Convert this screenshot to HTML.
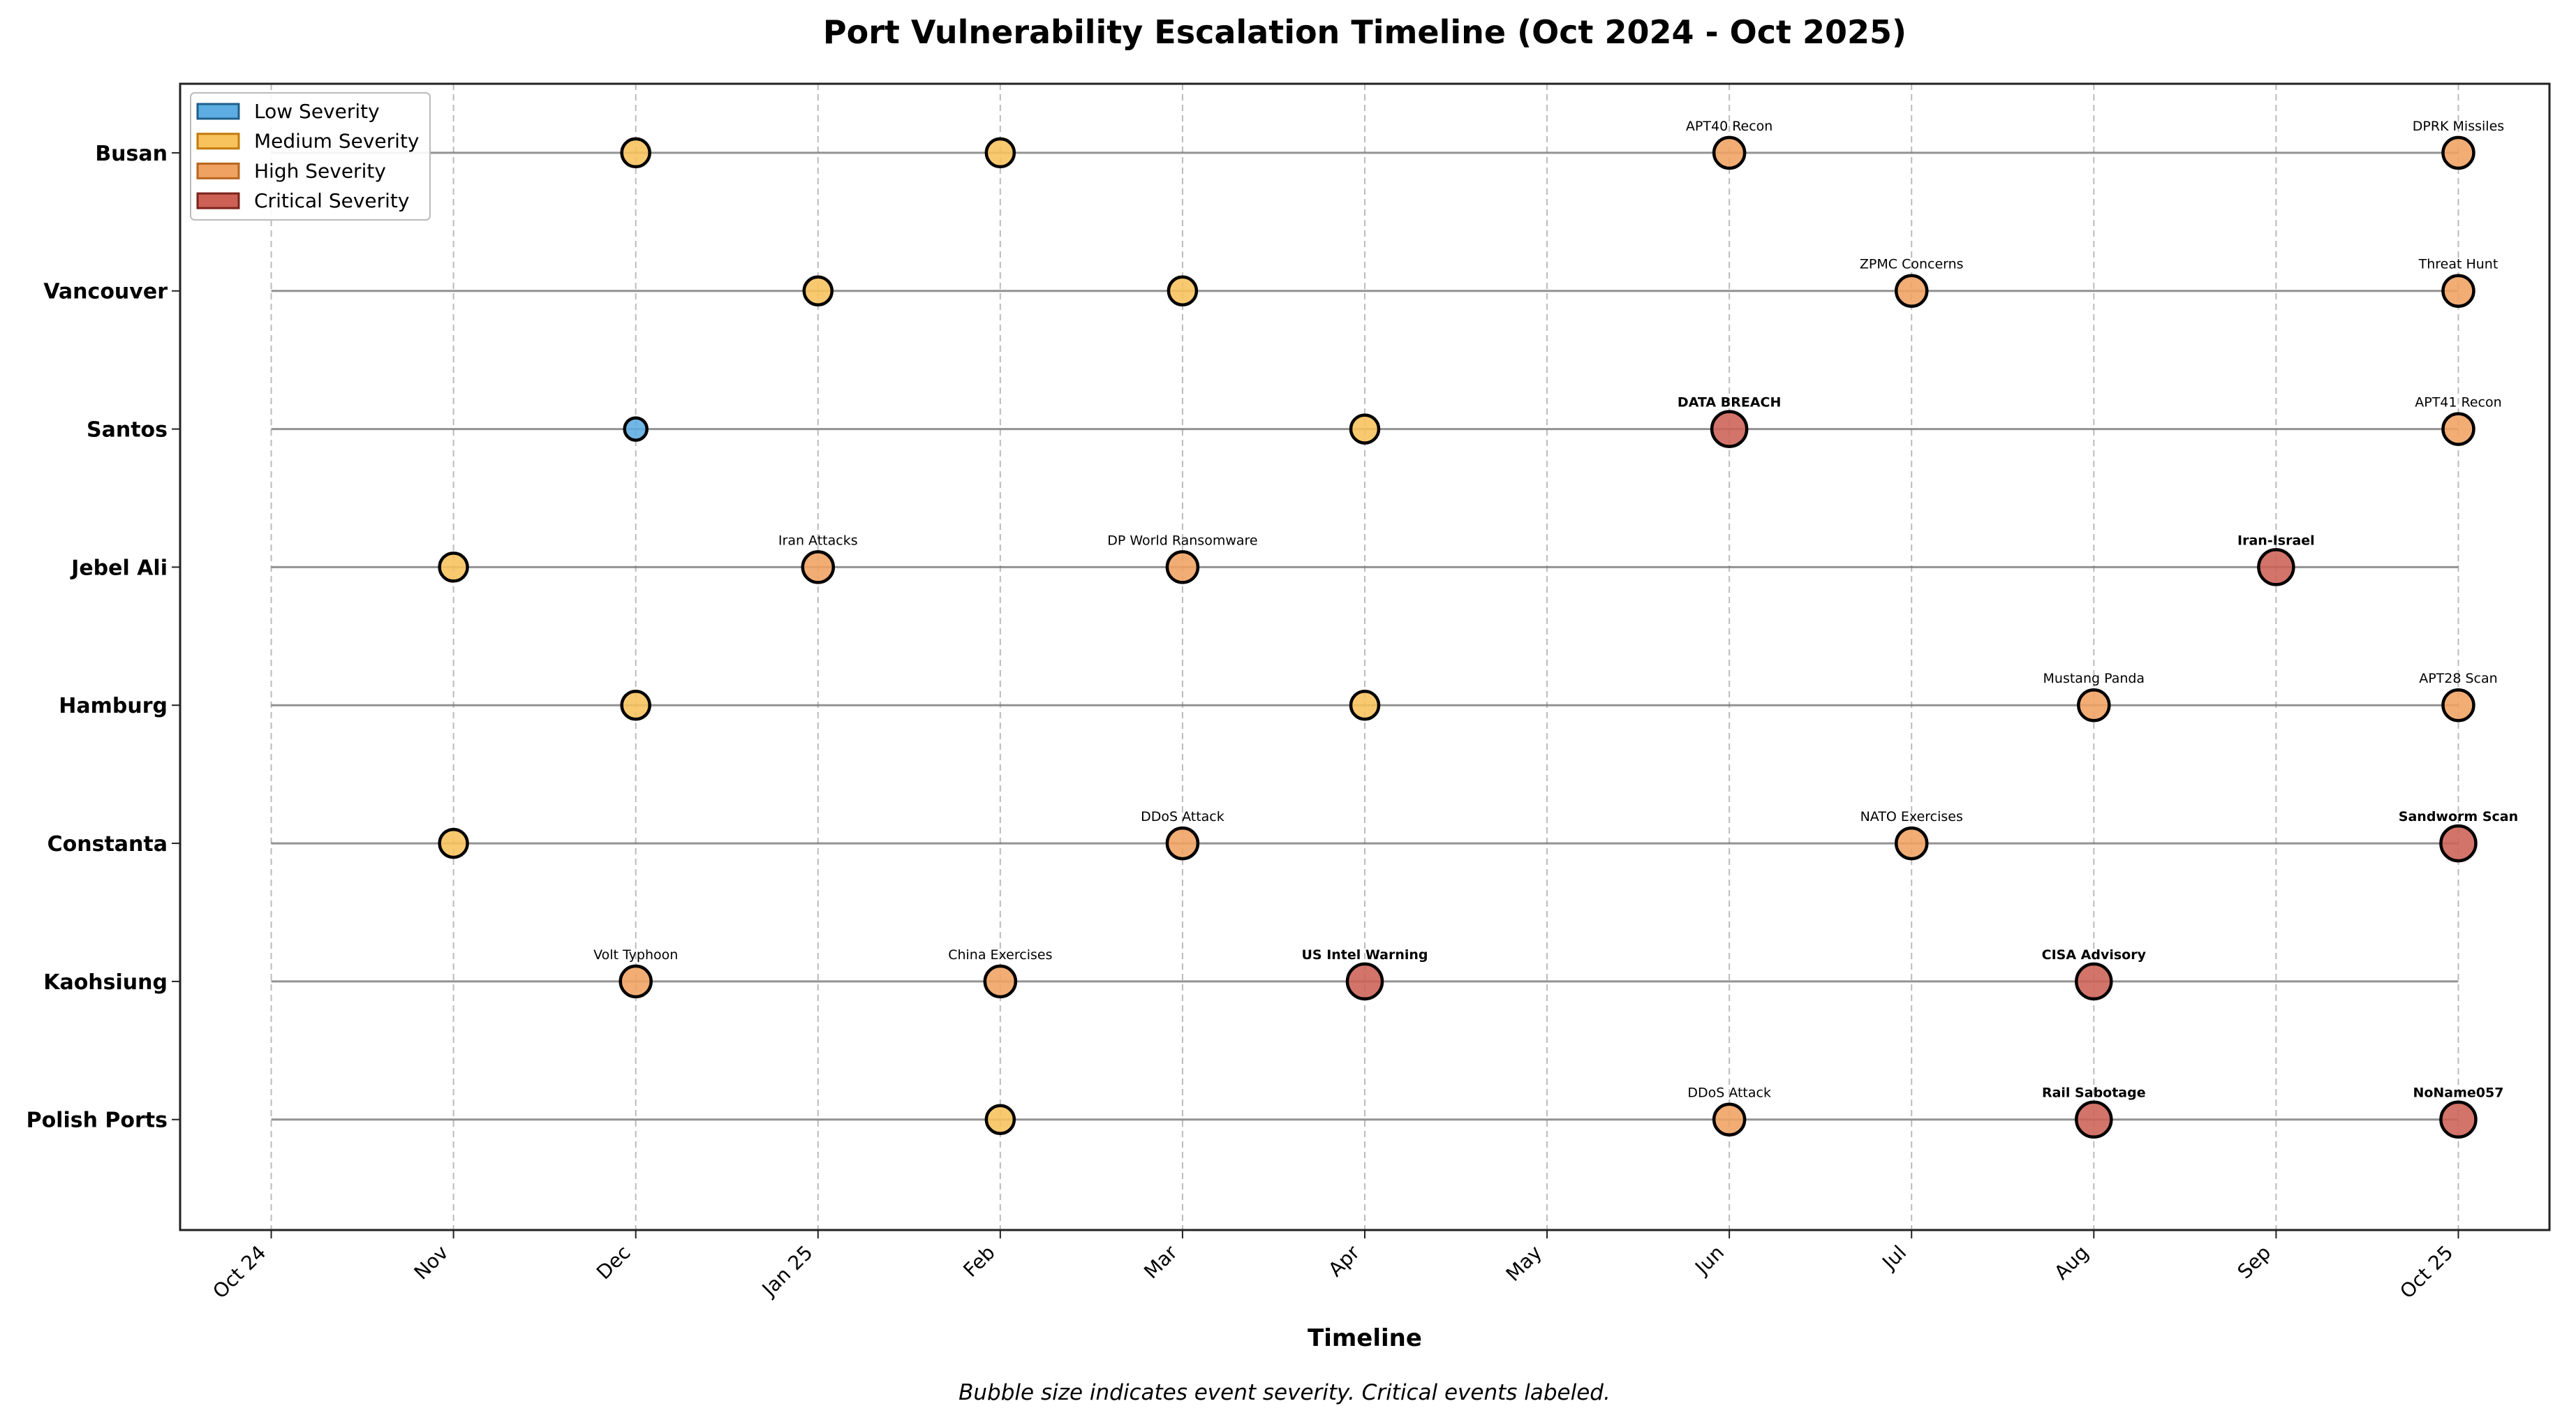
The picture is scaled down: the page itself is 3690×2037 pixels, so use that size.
<!DOCTYPE html>
<html><head><meta charset="utf-8"><style>
html,body{margin:0;padding:0;background:#fff;}
svg{display:block;font-family:"DejaVu Sans","Liberation Sans",sans-serif;}
</style></head><body>
<svg id="chart" width="3690" height="2037" viewBox="0 0 3690 2037" xmlns="http://www.w3.org/2000/svg">
<rect width="3690" height="2037" fill="#fff"/>
<text x="1955" y="62" text-anchor="middle" font-size="46" font-weight="bold">Port Vulnerability Escalation Timeline (Oct 2024 - Oct 2025)</text>
<g id="grid"></g>
<g id="rows"></g>
<g id="bubbles"></g>
<rect x="258" y="120" width="3394" height="1642" fill="none" stroke="#222" stroke-width="3"/>
<g id="xaxis"></g>
<g id="yaxis"></g>
<text x="1955" y="1928" text-anchor="middle" font-size="34" font-weight="bold">Timeline</text>
<text x="1840" y="2005" text-anchor="middle" font-size="31" font-style="italic">Bubble size indicates event severity. Critical events labeled.</text>
<g id="legend">
<rect x="273" y="133" width="343" height="182" rx="6" fill="#fff" fill-opacity="0.9" stroke="#bbb" stroke-width="2"/>
</g>
</svg>
<script>
const ports = ["Busan","Vancouver","Santos","Jebel Ali","Hamburg","Constanta","Kaohsiung","Polish Ports"];
const monthLabels = ["Oct 24","Nov","Dec","Jan 25","Feb","Mar","Apr","May","Jun","Jul","Aug","Sep","Oct 25"];
const eventPort = [0,0,0,0, 1,1,1,1, 2,2,2,2, 3,3,3,3, 4,4,4,4, 5,5,5,5, 6,6,6,6, 7,7,7,7];
const eventMonth = [2,4,8,12, 3,5,9,12, 2,6,8,12, 1,3,5,11, 2,6,10,12, 1,5,9,12, 2,4,6,10, 4,8,10,12];
const eventSeverity = [1,1,2,2, 1,1,2,2, 0,1,3,2, 1,2,2,3, 1,1,2,2, 1,2,2,3, 2,2,3,3, 1,2,3,3];
const eventLabels = ["","","APT40 Recon","DPRK Missiles","","","ZPMC Concerns","Threat Hunt","","","DATA BREACH","APT41 Recon","","Iran Attacks","DP World Ransomware","Iran-Israel","","","Mustang Panda","APT28 Scan","","DDoS Attack","NATO Exercises","Sandworm Scan","Volt Typhoon","China Exercises","US Intel Warning","CISA Advisory","","DDoS Attack","Rail Sabotage","NoName057"];
const severityNames = ["Low Severity","Medium Severity","High Severity","Critical Severity"];
const severityColors = ["#5DADE2","#F8C25C","#F0A262","#CD6155"];
const severityEdge = ["#1f5f8b","#c27c0e","#b9661f","#7b241c"];
const severityRadius = [16,20,22,25];

const NS="http://www.w3.org/2000/svg";
const X0=258,X1=3652,Y0=120,Y1=1762;
const xmin=-0.5,xmax=12.5,ytop=-0.5,ybot=7.8;
function xs(m){return X0+(m-xmin)/(xmax-xmin)*(X1-X0);}
function ys(i){return Y0+(i-ytop)/(ybot-ytop)*(Y1-Y0);}
function mk(tag,attrs,parent,text){const e=document.createElementNS(NS,tag);for(const k in attrs)e.setAttribute(k,attrs[k]);if(text!==undefined)e.textContent=text;parent.appendChild(e);return e;}
const grid=document.getElementById('grid'),rows=document.getElementById('rows'),bub=document.getElementById('bubbles'),xa=document.getElementById('xaxis'),ya=document.getElementById('yaxis'),lg=document.getElementById('legend');

monthLabels.forEach((lab,i)=>{
  const x=xs(i);
  const g=mk('line',{x1:x,y1:Y0,x2:x,y2:Y1,stroke:'#bbb','stroke-width':2,'stroke-dasharray':'9,6'},grid);
  
  
  const t=mk('line',{x1:x,y1:Y1,x2:x,y2:Y1+12,stroke:'#222','stroke-width':2},xa);
  
  
  const l=mk('text',{x:x-6,y:Y1+34,'text-anchor':'end','font-size':28,transform:`rotate(-45 ${x-6} ${Y1+34})`},xa,lab);
  
  
});
ports.forEach((p,i)=>{
  const y=ys(i);
  const ln=mk('line',{x1:xs(0),y1:y,x2:xs(12),y2:y,stroke:'#777','stroke-width':3,'stroke-opacity':0.8},rows);
  
  
  mk('line',{x1:X0-12,y1:y,x2:X0,y2:y,stroke:'#222','stroke-width':2},ya);
  const t=mk('text',{x:X0-18,y:y+11,'text-anchor':'end','font-size':30,'font-weight':'bold'},ya,p);
  
  
});
eventPort.forEach((p,k)=>{
  const s=eventSeverity[k],x=xs(eventMonth[k]),y=ys(p);
  const c=mk('circle',{cx:x,cy:y,r:severityRadius[s],fill:severityColors[s],'fill-opacity':0.88,stroke:'#000','stroke-width':4.5},bub);
  
  
  if(eventLabels[k]){
    const t=mk('text',{x:x,y:y-32,'text-anchor':'middle','font-size':19,'font-weight':s===3?'bold':'normal'},bub,eventLabels[k]);
    
    
  }
});
severityNames.forEach((n,i)=>{
  const y=159+i*42.7;
  const r=mk('rect',{x:283,y:y-10,width:59,height:21,fill:severityColors[i],stroke:severityEdge[i],'stroke-width':3},lg);
  
  
  const t=mk('text',{x:364,y:y+10,'font-size':28},lg,n);
  
  
});
</script>
</body></html>
